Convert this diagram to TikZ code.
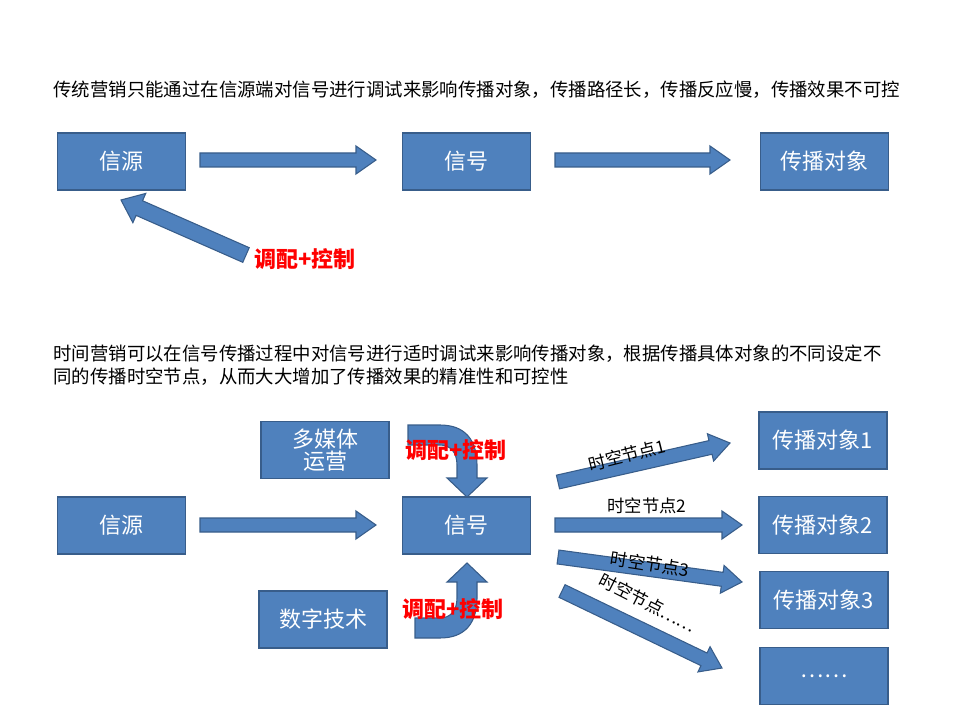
\documentclass[tikz,border=0pt]{standalone}
\usepackage{fontspec}
\setmainfont{Noto Sans CJK SC}
\usetikzlibrary{calc}
\definecolor{boxblue}{RGB}{79,129,189}
\definecolor{boxline}{RGB}{56,93,138}
\tikzset{every picture/.style={line width=0.75pt},
  blk/.style={draw=boxline,fill=boxblue,line width=1.2pt,minimum width=96pt,minimum height=42.75pt,inner sep=0pt,text=white,font=\fontsize{16.5}{19}\selectfont,align=center},
  barr/.style={draw=boxline,fill=boxblue,line width=0.8pt},
  redlab/.style={text=red,font=\bfseries\fontsize{16.5}{18}\selectfont,inner sep=0.75pt},
  nodelab/.style={font=\fontsize{13}{15}\selectfont,inner sep=0.75pt},
  para/.style={font=\fontsize{13.8}{17.5}\selectfont,inner sep=0.75pt,anchor=north west,align=left}}
% block arrow from #1 to #2, half shaft #3, half head #4, head length #5
\newcommand\blockarr[5]{%
  \coordinate (hb) at ($(#2)!#5!(#1)$);
  \draw[barr] ($(#1)!#3!90:(#2)$) -- ($(hb)!#3!-90:(#1)$) -- ($(hb)!#4!-90:(#1)$) -- (#2)
    -- ($(hb)!#4!90:(#1)$) -- ($(hb)!#3!90:(#1)$) -- ($(#1)!#3!-90:(#2)$) -- cycle;}

\begin{document}
\begin{tikzpicture}[x=0.75pt,y=0.75pt,yscale=-1,xscale=1]
\useasboundingbox (0,0) rectangle (960,720);

% Text Node
\node[para] (t1) at (52,79) {传统营销只能通过在信源端对信号进行调试来影响传播对象，传播路径长，传播反应慢，传播效果不可控};
\node[para] (t2) at (52,343) {时间营销可以在信号传播过程中对信号进行适时调试来影响传播对象，根据传播具体对象的不同设定不\\同的传播时空节点，从而大大增加了传播效果的精准性和可控性};

% top row
\node[blk] (src) at (121.5,161.5) {信源};
\node[blk] (sig) at (466.5,161.5) {信号};
\node[blk] (obj) at (824.5,161.5) {传播对象};
\coordinate (a1s) at (200,160); \coordinate (a1e) at (376,160);
\coordinate (a2s) at (555,160); \coordinate (a2e) at (730,160);
\coordinate (a3s) at (246,255); \coordinate (a3e) at (121,200);
\blockarr{a1s}{a1e}{5.25pt}{10.5pt}{15pt}
\blockarr{a2s}{a2e}{5.25pt}{10.5pt}{15pt}
\blockarr{a3s}{a3e}{6pt}{12pt}{15pt}
\node[redlab] (ctl) at (305,259) {调配+控制};

% bottom row
\node[blk] (mm) at (325,450) {多媒体\\[-3pt]运营};
\node[blk] (src2) at (121.5,525.5) {信源};
\node[blk] (sig2) at (466.5,525.5) {信号};
\node[blk] (dig) at (323,619.5) {数字技术};
\node[blk] (o1) at (823,440.5) {传播对象1};
\node[blk] (o2) at (823,525) {传播对象2};
\node[blk] (o3) at (824,600) {传播对象3};
\node[blk] (o4) at (824,676) {……};

% curved arrows
\draw[barr] (408,425) -- (440,425) .. controls (465,425) and (477,440) .. (477,465) -- (477,478) -- (487,478) -- (467,497) -- (447,478) -- (457,478) -- (457,465) .. controls (457,452) and (450,445) .. (440,445) -- (408,445) -- cycle;
\draw[barr] (415,638) -- (440,638) .. controls (465,638) and (477,623) .. (477,598) -- (477,582) -- (487,582) -- (467,563) -- (447,582) -- (457,582) -- (457,598) .. controls (457,611) and (450,618) .. (440,618) -- (415,618) -- cycle;
\node[redlab] (ctl1) at (456,450) {调配+控制};
\node[redlab] (ctl2) at (453,609) {调配+控制};

\coordinate (b1s) at (200,525); \coordinate (b1e) at (376,525);
\coordinate (b2s) at (555,525); \coordinate (b2e) at (742,525);
\coordinate (b3s) at (558,482); \coordinate (b3e) at (730,443);
\coordinate (b4s) at (558,557); \coordinate (b4e) at (742,582);
\coordinate (b5s) at (562,591); \coordinate (b5e) at (722,668);
\foreach \a in {b1,b2,b3,b4,b5}
  {\blockarr{\a s}{\a e}{5.25pt}{10.5pt}{15pt}}

\node[nodelab,rotate=14] (l1) at (627,455) {时空节点1};
\node[nodelab] (l2) at (647,506) {时空节点2};
\node[nodelab,rotate=-9] (l3) at (650,564) {时空节点3};
\node[nodelab,rotate=-27] (l4) at (648,603) {时空节点……};

\end{tikzpicture}
\end{document}
